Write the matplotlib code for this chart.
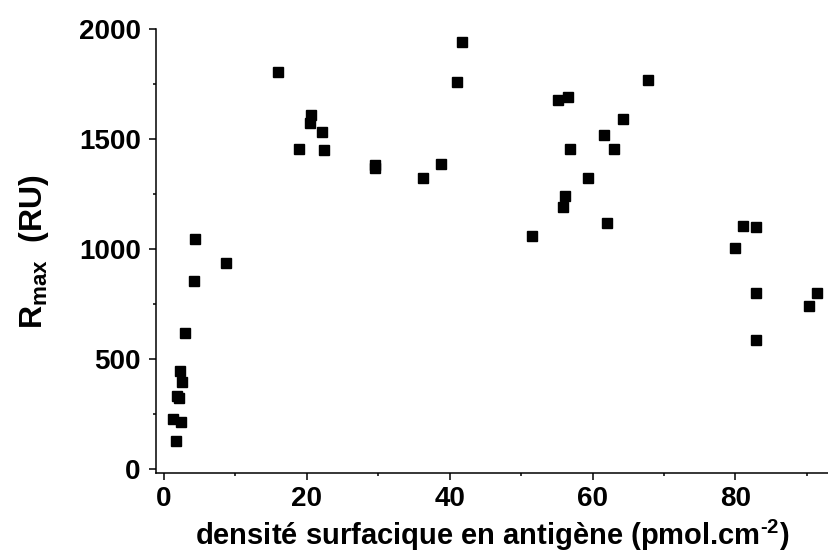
import matplotlib
matplotlib.use("Agg")
import matplotlib.pyplot as plt
from matplotlib.ticker import MultipleLocator

plt.rcParams['font.family'] = ['Liberation Sans', 'DejaVu Sans']
plt.rcParams['font.weight'] = 'bold'
plt.rcParams['mathtext.fontset'] = 'custom'
plt.rcParams['mathtext.rm'] = 'Liberation Sans:bold'
plt.rcParams['mathtext.bf'] = 'Liberation Sans:bold'
plt.rcParams['mathtext.it'] = 'Liberation Sans:bold'

# antigen surface density (pmol/cm2) vs Rmax (RU)
density = [4.4, 8.7, 4.2, 2.9, 2.3, 2.5, 1.8, 2.1, 1.3, 2.4, 1.7,
           16.0, 20.6, 20.5, 22.2, 18.9, 22.4, 29.6, 29.6, 36.3, 38.8, 41.0, 41.8,
           67.8, 55.1, 56.5, 64.2, 61.6, 56.8, 63.0, 59.4, 56.2, 55.8, 62.0, 51.5,
           81.0, 82.9, 80.0, 82.9, 91.4, 90.3, 82.9]
rmax = [1048, 938, 854, 620, 448, 398, 333, 324, 230, 214, 129,
        1803, 1609, 1571, 1530, 1453, 1451, 1382, 1370, 1321, 1386, 1759, 1939,
        1770, 1677, 1691, 1589, 1518, 1457, 1457, 1321, 1242, 1191, 1121, 1059,
        1106, 1100, 1007, 803, 801, 744, 586]

fig = plt.figure(figsize=(8.29, 5.53), dpi=100)
ax = fig.add_axes([156 / 829, (553 - 473.3) / 553, (829 - 156) / 829, (473.3 - 29) / 553])

ax.plot(density, rmax, 's', color='black', markersize=7, linestyle='none')

ax.set_xlim(-1.1, 93.1)
ax.set_ylim(-18, 2000)
ax.xaxis.set_major_locator(MultipleLocator(20))
ax.xaxis.set_minor_locator(MultipleLocator(10))
ax.yaxis.set_major_locator(MultipleLocator(500))
ax.yaxis.set_minor_locator(MultipleLocator(250))

ax.spines['top'].set_visible(False)
ax.spines['right'].set_visible(False)
for s in ['left', 'bottom']:
    ax.spines[s].set_linewidth(1.1)
ax.tick_params(which='major', direction='out', length=5, width=1.1, labelsize=20)
ax.tick_params(axis='y', which='major', pad=6)
ax.tick_params(axis='x', which='major', pad=4)
ax.tick_params(which='minor', direction='out', length=2.5, width=1.1)

ax.set_xlabel(r'densité surfacique en antigène (pmol.cm$^{\text{-}2}$)',
              fontsize=21, fontweight='bold', labelpad=4)
ax.set_ylabel(r'R$_{\mathrm{max}}$  (RU)', fontsize=23, fontweight='bold', labelpad=20)

fig.savefig('out.png', dpi=100)
